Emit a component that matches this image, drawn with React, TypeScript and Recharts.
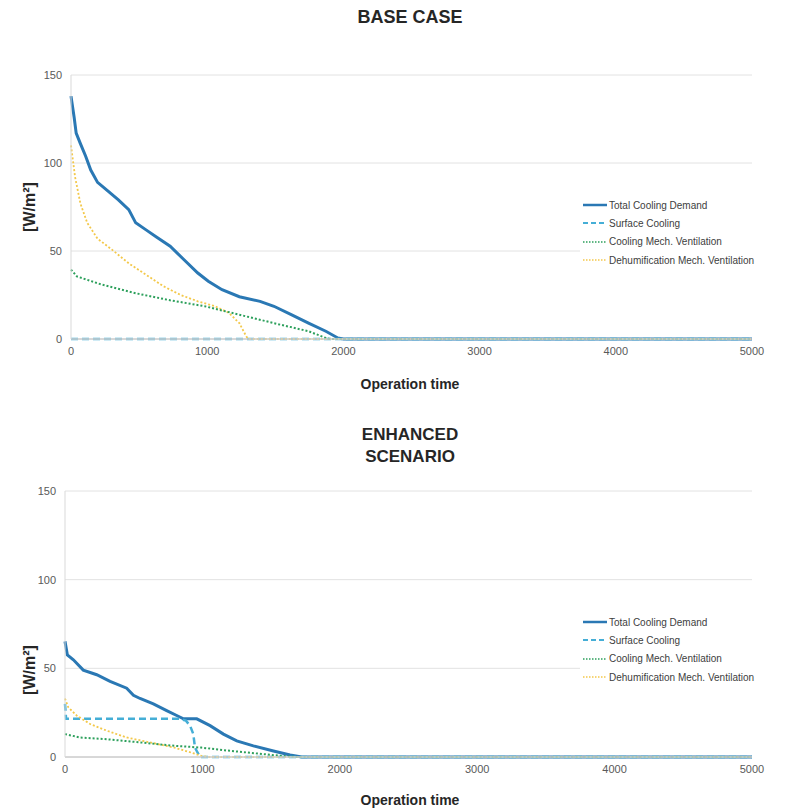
import React from "react";
import { LineChart, Line, XAxis, YAxis, CartesianGrid } from "recharts";

// ---- Data (operation time [h], value [W/m²]) ----
const xTicks = [0, 1000, 2000, 3000, 4000, 5000];
const yTicks = [0, 50, 100, 150];

const baseTotal: [number, number][] = [
  [0, 138], [23, 126], [38, 117], [69, 111], [107, 104], [145, 96], [195, 89],
  [272, 84], [348, 79], [424, 73.5], [475, 66], [551, 62], [627, 58], [728, 52.7],
  [830, 45], [931, 37.5], [1008, 32.8], [1109, 28], [1236, 24], [1388, 21.4],
  [1490, 18.6], [1617, 13.8], [1744, 9], [1871, 4.4], [1959, 0.6], [2000, 0], [5000, 0],
];
const baseSurface: [number, number][] = [[0, 0], [5000, 0]];
const baseVent: [number, number][] = [
  [0, 39.4], [43, 35.6], [221, 31], [475, 26], [728, 22], [982, 18.6], [1236, 13.8],
  [1490, 9], [1744, 4.4], [1871, 0.6], [1900, 0], [5000, 0],
];
const baseDehum: [number, number][] = [
  [0, 110], [30, 92], [69, 77], [119, 66], [195, 57], [297, 51], [424, 43], [551, 36.5],
  [678, 30], [805, 25], [931, 21.4], [1058, 18.6], [1160, 14.8], [1236, 9], [1287, 1.5],
  [1300, 0], [5000, 0],
];

const enhTotal: [number, number][] = [
  [0, 65.2], [17, 57.6], [61, 54.8], [133, 49], [231, 46.4], [328, 42.6], [449, 38.8],
  [498, 34.8], [546, 33], [643, 30], [740, 26.2], [813, 23.4], [862, 21.5], [959, 21.5],
  [1056, 17.7], [1153, 12.9], [1250, 9.1], [1371, 6.3], [1517, 3.4], [1638, 1.1],
  [1723, 0], [5000, 0],
];
const enhSurface: [number, number][] = [
  [0, 30], [8, 21.5], [837, 21.5], [880, 20.5], [910, 17.7], [934, 12.9], [946, 5.3],
  [959, 3.4], [983, 0], [5000, 0],
];
const enhVent: [number, number][] = [
  [0, 12.9], [110, 11], [306, 10], [551, 8.2], [796, 6.3], [992, 5.3], [1163, 3.8],
  [1408, 1.9], [1580, 0.6], [1680, 0], [5000, 0],
];
const enhDehum: [number, number][] = [
  [0, 33], [24, 28], [85, 23.4], [183, 18.6], [306, 14.8], [449, 11], [621, 8.2],
  [796, 5.3], [918, 2.5], [993, 0.6], [1050, 0], [5000, 0],
];

const seriesNames = [
  "Total Cooling Demand",
  "Surface Cooling",
  "Cooling Mech. Ventilation",
  "Dehumification Mech. Ventilation",
];

const COLORS = {
  total: "#2a78b4",
  surface: "#45aed6",
  vent: "#2da05c",
  dehum: "#f3c84a",
};

const toPts = (arr: [number, number][]) => arr.map(([x, y]) => ({ x, y }));

const narrow = "'Liberation Sans Narrow', 'Liberation Sans', Arial, sans-serif";
const sans = "'Liberation Sans', Arial, sans-serif";

function LegendBox({ top }: { top: number }) {
  const items = [
    { name: seriesNames[0], color: COLORS.total, dash: undefined, w: 2.5 },
    { name: seriesNames[1], color: COLORS.surface, dash: "5 3", w: 2 },
    { name: seriesNames[2], color: COLORS.vent, dash: "1.5 1.5", w: 1.5 },
    { name: seriesNames[3], color: COLORS.dehum, dash: "1.5 1.5", w: 1.5 },
  ];
  return (
    <div
      style={{
        position: "absolute",
        left: 580,
        top,
        width: 224,
        background: "#fff",
        fontFamily: sans,
        fontSize: 10,
        color: "#404040",
      }}
    >
      {items.map((it) => (
        <div key={it.name} style={{ height: 18.3, display: "flex", alignItems: "center" }}>
          <svg width={29} height={10} style={{ flex: "none" }}>
            <line x1={3} y1={5} x2={27} y2={5} stroke={it.color} strokeWidth={it.w} strokeDasharray={it.dash} />
          </svg>
          <span style={{ whiteSpace: "nowrap" }}>{it.name}</span>
        </div>
      ))}
    </div>
  );
}

function Panel({
  top,
  height,
  marginTop,
  marginLeft,
  marginBottom,
  total,
  surface,
  vent,
  dehum,
}: {
  top: number;
  height: number;
  marginTop: number;
  marginLeft: number;
  marginBottom: number;
  total: [number, number][];
  surface: [number, number][];
  vent: [number, number][];
  dehum: [number, number][];
}) {
  return (
    <div style={{ position: "absolute", left: 0, top }}>
      <LineChart
        width={804}
        height={height}
        margin={{ top: marginTop, right: 52, bottom: marginBottom, left: 0 }}
      >
        <CartesianGrid vertical={false} stroke="#e2e2e2" />
        <XAxis
          type="number"
          dataKey="x"
          domain={[0, 5000]}
          ticks={xTicks}
          allowDuplicatedCategory={false}
          tickLine={false}
          tickSize={0}
          tickMargin={8}
          height={30}
          axisLine={{ stroke: "#cfcfcf", strokeWidth: 1.5 }}
          tick={{ fill: "#595959", fontSize: 11, fontFamily: narrow }}
        />
        <YAxis
          type="number"
          domain={[0, 150]}
          ticks={yTicks}
          width={marginLeft}
          tickLine={false}
          tickSize={0}
          tickMargin={9}
          axisLine={{ stroke: "#d9d9d9" }}
          tick={{ fill: "#595959", fontSize: 11, fontFamily: narrow }}
        />
        <Line
          data={toPts(total)}
          dataKey="y"
          name={seriesNames[0]}
          type="linear"
          stroke={COLORS.total}
          strokeWidth={3}
          dot={false}
          isAnimationActive={false}
        />
        <Line
          data={toPts(surface)}
          dataKey="y"
          name={seriesNames[1]}
          type="linear"
          stroke={COLORS.surface}
          strokeWidth={2.5}
          strokeDasharray="7 4"
          dot={false}
          isAnimationActive={false}
        />
        <Line
          data={toPts(dehum)}
          dataKey="y"
          name={seriesNames[3]}
          type="linear"
          stroke={COLORS.dehum}
          strokeWidth={1.8}
          strokeDasharray="2 2"
          dot={false}
          isAnimationActive={false}
        />
        <Line
          data={toPts(vent)}
          dataKey="y"
          name={seriesNames[2]}
          type="linear"
          stroke={COLORS.vent}
          strokeWidth={2}
          strokeDasharray="2 2"
          dot={false}
          isAnimationActive={false}
        />
      </LineChart>
    </div>
  );
}

const titleStyle: React.CSSProperties = {
  position: "absolute",
  left: 0,
  width: 820,
  textAlign: "center",
  fontWeight: "bold",
  color: "#262626",
};

export default function App() {
  return (
    <div
      style={{
        position: "absolute",
        left: 0,
        top: 0,
        width: 804,
        height: 810,
        background: "#fff",
        overflow: "hidden",
        fontFamily: sans,
      }}
    >
      {/* Top panel */}
      <div style={{ ...titleStyle, top: 7, fontSize: 18, fontFamily: narrow }}>BASE CASE</div>
      <Panel
        top={0}
        height={400}
        marginTop={75}
        marginLeft={71}
        marginBottom={31}
        total={baseTotal}
        surface={baseSurface}
        vent={baseVent}
        dehum={baseDehum}
      />
      <div
        style={{
          position: "absolute",
          left: 30,
          top: 207,
          transform: "translate(-50%, -50%) rotate(-90deg)",
          fontSize: 16,
          fontWeight: "bold",
          color: "#262626",
          whiteSpace: "nowrap",
        }}
      >
        [W/m²]
      </div>
      <div style={{ ...titleStyle, top: 376, fontSize: 14, fontFamily: narrow }}>Operation time</div>
      <LegendBox top={196} />

      {/* Bottom panel */}
      <div style={{ ...titleStyle, top: 424, fontSize: 17, lineHeight: "22px" }}>
        ENHANCED
        <br />
        SCENARIO
      </div>
      <Panel
        top={400}
        height={410}
        marginTop={91}
        marginLeft={65}
        marginBottom={23}
        total={enhTotal}
        surface={enhSurface}
        vent={enhVent}
        dehum={enhDehum}
      />
      <div
        style={{
          position: "absolute",
          left: 30,
          top: 670,
          transform: "translate(-50%, -50%) rotate(-90deg)",
          fontSize: 16,
          fontWeight: "bold",
          color: "#262626",
          whiteSpace: "nowrap",
        }}
      >
        [W/m²]
      </div>
      <div style={{ ...titleStyle, top: 792, fontSize: 14, fontFamily: narrow }}>Operation time</div>
      <LegendBox top={613} />
    </div>
  );
}
